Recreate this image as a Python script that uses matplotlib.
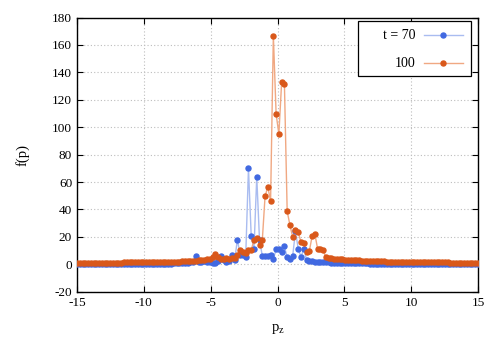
import numpy as np
import matplotlib
matplotlib.use("Agg")
import matplotlib.pyplot as plt
from matplotlib.patches import Rectangle

# momentum grid and distributions f(p) for two times
pz = np.linspace(-15, 15, 146)

f_t70 = [0.1] * 15 + [0.2] * 10 + [0.3] * 8 + [0.4, 0.5, 0.6, 0.7, 0.8, 0.9, 1.0] + [
    1.2, 2.0, 1.5, 5.8, 2.0, 1.5, 2.5, 1.5, 2.0, 0.8,
    1.0, 2.5, 5.8, 3.0, 2.0, 2.5, 6.5, 2.9,
    18.0, 6.5, 6.5, 5.3, 70.0, 20.3, 11.3, 63.8, 17.4, 6.3,
    6.3, 6.3, 6.8, 3.6, 11.0, 11.5, 9.2, 13.0, 5.0, 4.0,
    6.3, 24.0, 11.3, 5.3, 11.3, 3.2, 2.5, 2.2, 2.0, 1.8,
    1.6, 1.5, 1.4,
    1.3, 1.2, 1.1, 1.0, 1.0, 0.9, 0.9, 0.8, 0.8, 0.7,
    0.7, 0.7, 0.6, 0.6, 0.6, 0.5, 0.5, 0.5, 0.5, 0.4,
    0.4, 0.4, 0.4, 0.4, 0.3, 0.3, 0.3, 0.3, 0.3, 0.3,
    0.3, 0.2, 0.2, 0.2, 0.2, 0.2, 0.2, 0.2, 0.2, 0.2,
    0.2, 0.2, 0.1, 0.1, 0.1, 0.1, 0.1, 0.1, 0.1, 0.1,
    0.1, 0.1, 0.1, 0.1, 0.1]

f_t100 = [
    1.0, 1.0, 1.0, 1.0, 1.0, 1.0, 1.0, 1.1, 1.1, 1.1,
    1.1, 1.1, 1.2, 1.2, 1.2, 1.2, 1.2, 1.3, 1.3, 1.3,
    1.3, 1.4, 1.4, 1.4, 1.4, 1.5, 1.5, 1.5, 1.6, 1.6,
    1.6, 1.7, 1.7, 1.8, 1.8, 1.9, 1.9, 2.0, 2.1, 2.2,
    2.3, 2.4, 2.5, 2.7, 2.9, 3.0, 3.2, 3.5, 4.0, 5.0,
    7.2, 5.0, 3.5, 3.8, 4.5, 4.0, 4.5, 4.5,
    6.5, 10.1, 9.0, 8.5, 10.6, 10.6, 17.4, 19.3, 14.0, 17.4,
    49.5, 56.5, 45.9, 166.7, 109.6, 95.0, 133.0, 131.7, 38.6, 28.6,
    19.8, 25.0, 23.3, 16.1, 15.2, 9.0, 9.5, 20.3, 22.2, 11.3,
    11.3, 10.4, 5.0,
    4.6, 4.4, 4.2, 4.0, 3.8, 3.6, 3.4, 3.2, 3.1, 3.0,
    3.4, 2.8, 2.7, 2.6, 2.5, 2.4, 2.3, 2.3, 2.2,
    2.1, 2.1, 2.0, 2.0, 1.9, 1.9, 1.8, 1.8, 1.8, 1.7,
    1.7, 1.7, 1.6, 1.6, 1.6, 1.5, 1.5, 1.5, 1.4, 1.4,
    1.4, 1.3, 1.3, 1.3, 1.3, 1.2, 1.2, 1.2, 1.2, 1.1,
    1.1, 1.1, 1.1, 1.0, 1.0, 1.0]

labels = ["t = 70", "100"]
line_colors = ['#a9bcf0', '#f0a882']
mark_colors = ['#4169e1', '#d9581a']

plt.rcParams['font.family'] = ['Liberation Serif', 'DejaVu Serif']
plt.rcParams['mathtext.fontset'] = 'custom'
plt.rcParams['mathtext.rm'] = 'Liberation Serif'
plt.rcParams['mathtext.it'] = 'Liberation Serif'
plt.rcParams['axes.unicode_minus'] = False

fig = plt.figure(figsize=(5, 3.5), dpi=100)
ax = fig.add_axes([0.154, 0.1666, 0.802, 0.7834])

for i, f in enumerate([f_t70, f_t100]):
    ax.plot(pz, f, color=line_colors[i], lw=1, zorder=2)
    ax.plot(pz, f, ls='none', marker='o', ms=3.6, color=mark_colors[i],
            zorder=3 + i)

# gnuplot style key: text right-aligned, sample on the right
ax.add_patch(Rectangle((0.700, 0.787), 0.282, 0.201, transform=ax.transAxes,
                       fill=True, fc='white', ec='black', lw=0.9, zorder=10))
rows = [0.936, 0.834]
for i in range(2):
    ax.text(0.845, rows[i], labels[i], transform=ax.transAxes, ha='right',
            va='center', fontsize=10, zorder=11)
    ax.plot([0.865, 0.963], [rows[i], rows[i]], color=line_colors[i], lw=1,
            transform=ax.transAxes, zorder=11, clip_on=False)
    ax.plot([0.913], [rows[i]], ls='none', marker='o', ms=3.6,
            color=mark_colors[i], transform=ax.transAxes, zorder=12,
            clip_on=False)

ax.set_xlim(-15, 15)
ax.set_ylim(-20, 180)
ax.set_xticks(range(-15, 16, 5))
ax.set_yticks(range(-20, 181, 20))
ax.grid(True, color='#bdbdbd', ls=(0, (1, 2)), lw=0.8)
ax.tick_params(direction='in', top=True, right=True, labelsize=9.5, length=4.5)
for s in ax.spines.values():
    s.set_linewidth(1)

ax.set_xlabel('p$_\\mathrm{z}$', fontsize=10.5, labelpad=10)
ax.set_ylabel('f(p)', fontsize=10.5, labelpad=16)

fig.savefig('out.png', dpi=100)
